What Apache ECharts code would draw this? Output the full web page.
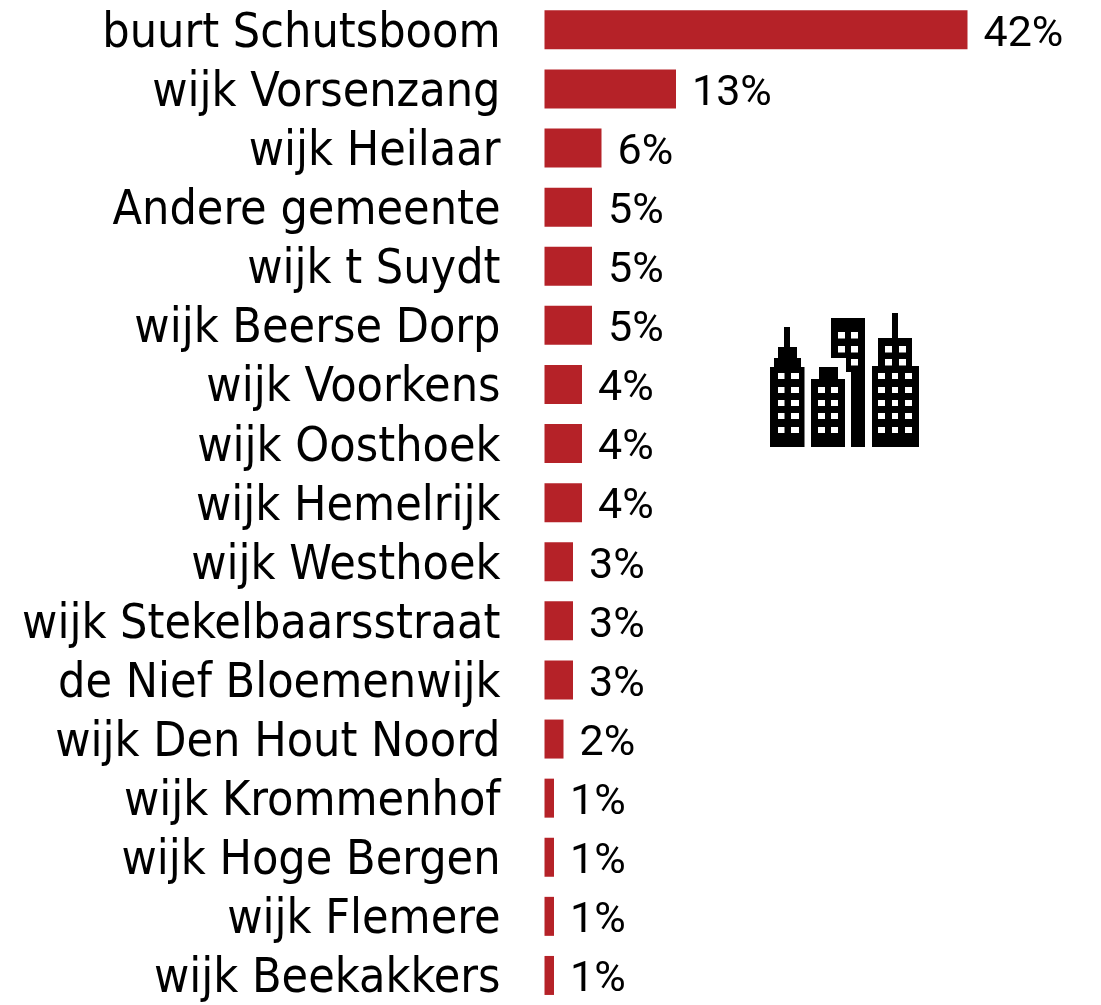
<!DOCTYPE html>
<html><head><meta charset="utf-8">
<style>html,body{margin:0;padding:0;background:#fff}#c{width:1101px;height:1005px}</style>
<script src="https://cdn.jsdelivr.net/npm/echarts@6/dist/echarts.min.js"></script>
</head><body><div id="c"></div>
<script>
const categories = ["buurt Schutsboom","wijk Vorsenzang","wijk Heilaar","Andere gemeente","wijk t Suydt","wijk Beerse Dorp","wijk Voorkens","wijk Oosthoek","wijk Hemelrijk","wijk Westhoek","wijk Stekelbaarsstraat","de Nief Bloemenwijk","wijk Den Hout Noord","wijk Krommenhof","wijk Hoge Bergen","wijk Flemere","wijk Beekakkers"];
const barValues = [42.3,13.15,5.7,4.75,4.75,4.75,3.75,3.75,3.75,2.85,2.85,2.85,1.9,0.95,0.95,0.95,0.95];

const black = '#000';
const box = (x, y, w, h, fill) => ({type:'rect', shape:{x, y, width:w, height:h}, style:{fill}});
const solids = [[770,367,34.5,80],[774,358,27,9],[778,347,19,11],[784,327,6,20],
  [811,379,34,68],[819,367,19,12],
  [831,318,34,40],[846,358,19,14],[851,372,14,75],
  [872,366,47,81],[878,338,34,28],[892,313,6,25]];
const rows = [373,387,400,413,427];
const wins = [];
rows.forEach(y => {
  [[778,6.5],[791,8],[878,7],[892,6],[905,7]].forEach(([x,w]) => wins.push([x,y,w,6]));
  if (y > 373) [[818,7],[831,7]].forEach(([x,w]) => wins.push([x,y,w,6]));
});
[[838,332],[851,332],[838,346],[851,346],[851,359],[885,346],[899,346],[885,359],[899,359]].forEach(([x,y]) => wins.push([x,y,7,6.5]));
const icon = solids.map(r => box(...r, black)).concat(wins.map(r => box(...r, '#fff')));

const chart = echarts.init(document.getElementById('c'), null, {renderer:'canvas'});
chart.setOption({
  animation:false,
  backgroundColor:'#fff',
  grid:{left:544.5, top:0.3, width:500, height:1009.4, containLabel:false},
  xAxis:{type:'value', min:0, max:50, show:false},
  yAxis:{type:'category', inverse:true, data:categories,
    axisLine:{show:false}, axisTick:{show:false},
    axisLabel:{margin:44, align:'right', interval:0,
      formatter: v => '{a|' + v + '}',
      rich:{a:{fontFamily:'"DejaVu Sans Condensed"', fontSize:48, color:'#000', padding:[9,0,0,0]}}}},
  series:[{type:'bar', data:barValues, barWidth:39, itemStyle:{color:'#B52228'},
    label:{show:true, position:'right', distance:16, offset:[0,5], fontFamily:'Roboto', fontSize:43, color:'#000',
      formatter:p => Math.round(p.value) + '%'}}],
  graphic:[{type:'group', silent:true, children:icon}]
});
</script></body></html>
